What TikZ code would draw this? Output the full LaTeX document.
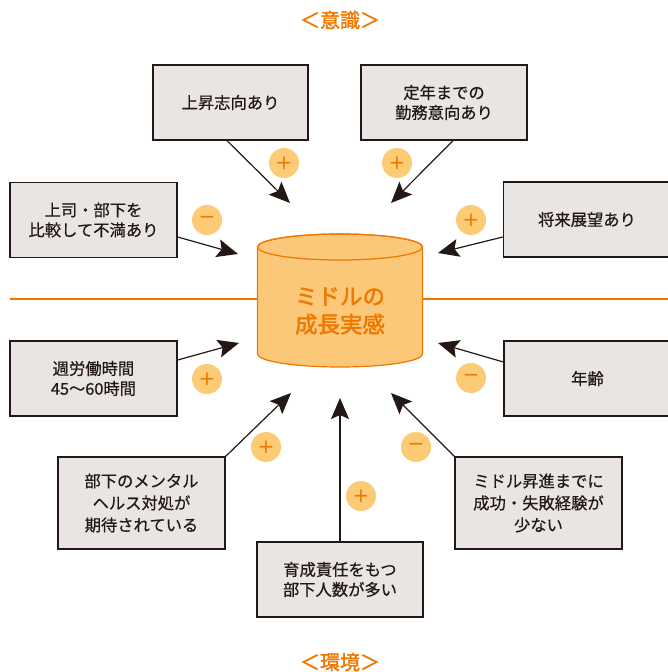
\documentclass[tikz,border=0pt]{standalone}
\usepackage{fontspec}
\setmainfont{Noto Sans CJK JP}[FakeBold=0.5]
\newfontfamily\heavyfont{Noto Sans CJK JP}[FakeBold=1.8]
\newfontfamily\signfont{DejaVu Sans}
\usetikzlibrary{arrows.meta,calc}
\definecolor{ink}{HTML}{231815}
\definecolor{boxgray}{HTML}{E9E5E2}
\definecolor{accent}{HTML}{EE7800}
\definecolor{cylfill}{HTML}{FAC878}
\definecolor{badgefill}{HTML}{FBCB76}
\begin{document}
\begin{tikzpicture}[x=1pt,y=-1pt,
  box/.style={draw=ink, line width=1.3pt, fill=boxgray, text=ink, minimum width=167pt, minimum height=75pt, align=center, inner sep=0pt, font=\fontsize{16.3}{20}\selectfont},
  tallbox/.style={box, minimum height=92pt, font=\fontsize{16.3}{22}\selectfont},
  conn/.style={draw=ink, line width=1.2pt, -{Stealth[length=21pt,width=18pt,inset=4pt]}},
  badge/.style={circle, fill=badgefill, minimum size=30pt, inner sep=0pt, text=accent, font=\signfont\fontsize{20}{20}\selectfont},
  heading/.style={text=accent, font=\heavyfont\fontsize{20}{20}\selectfont, inner sep=0pt}
]
\useasboundingbox (0,0) rectangle (668,672);

% headings
\node[heading] (top) at (340,20) {＜意識＞};
\node[heading] (bottom) at (340,662) {＜環境＞};

% horizontal line
\coordinate (lineL) at (10,299);
\coordinate (lineR) at (668,299);
\coordinate (cylL) at (257.5,299);
\coordinate (cylR) at (422.5,299);
\draw[accent, line width=1.4pt] (lineL) -- (cylL);
\draw[accent, line width=1.4pt] (cylR) -- (lineR);

% cylinder
\path[fill=cylfill, draw=accent, line width=1.2pt]
  (257.5,247) -- (257.5,354) arc[start angle=180, end angle=0, x radius=82.5, y radius=13]
  -- (422.5,247) arc[start angle=0, end angle=-180, x radius=82.5, y radius=13] -- cycle;
\draw[accent, line width=1.2pt] (340,247) ellipse[x radius=82.5, y radius=13];
\node[text=accent, align=center, font=\heavyfont\fontsize{22.5}{28}\selectfont, inner sep=0pt] (cyl) at (340,311) {ミドルの\\成長実感};

% boxes
\node[box, minimum width=155pt] (b1) at (230.5,102.5) {上昇志向あり};
\node[box, minimum width=166pt] (b2) at (444,102.5) {定年までの\\勤務意向あり};
\node[box] (b3) at (93.5,220) {上司・部下を\\比較して不満あり};
\node[box] (b4) at (587,219.5) {将来展望あり};
\node[box] (b5) at (93.5,378.5) {週労働時間\\45～60時間};
\node[box] (b6) at (587.5,378.5) {年齢};
\node[tallbox] (b7) at (141.5,503) {部下のメンタル\\ヘルス対処が\\期待されている};
\node[tallbox] (b8) at (538.5,503) {ミドル昇進までに\\成功・失敗経験が\\少ない};
\node[box, minimum width=166pt] (b9) at (340,579.5) {育成責任をもつ\\部下人数が多い};

% arrow targets
\coordinate (t1) at (290,203);
\coordinate (t2) at (391,203);
\coordinate (t3) at (238,254);
\coordinate (t4) at (438,253);
\coordinate (t5) at (239,343);
\coordinate (t6) at (438,343);
\coordinate (t7) at (291,393);
\coordinate (t9) at (340,398);
\coordinate (t8) at (391,393);

% connectors
\draw[conn] ($(b1.south)+(-3.5,0)$) -- (t1);
\draw[conn] ($(b2.south)+(9,0)$) -- (t2);
\draw[conn] ($(b3.east)+(0,17)$) -- (t3);
\draw[conn] ($(b4.west)+(0,17.5)$) -- (t4);
\draw[conn] ($(b5.east)+(0,-18.5)$) -- (t5);
\draw[conn] ($(b6.west)+(0,-16.5)$) -- (t6);
\draw[conn] (b7.north east) -- (t7);
\draw[conn] (b8.north west) -- (t8);
\draw[conn] (b9.north) -- (t9);

% badges
\node[badge] (s1) at (284,163) {+};
\node[badge] (s2) at (397,163) {+};
\node[badge] (s3) at (207,220) {−};
\node[badge] (s4) at (471,220) {+};
\node[badge] (s5) at (207,379) {+};
\node[badge] (s6) at (471,378) {−};
\node[badge] (s7) at (266,447) {+};
\node[badge] (s8) at (416,447) {−};
\node[badge] (s9) at (361,496) {+};
\end{tikzpicture}
\end{document}
